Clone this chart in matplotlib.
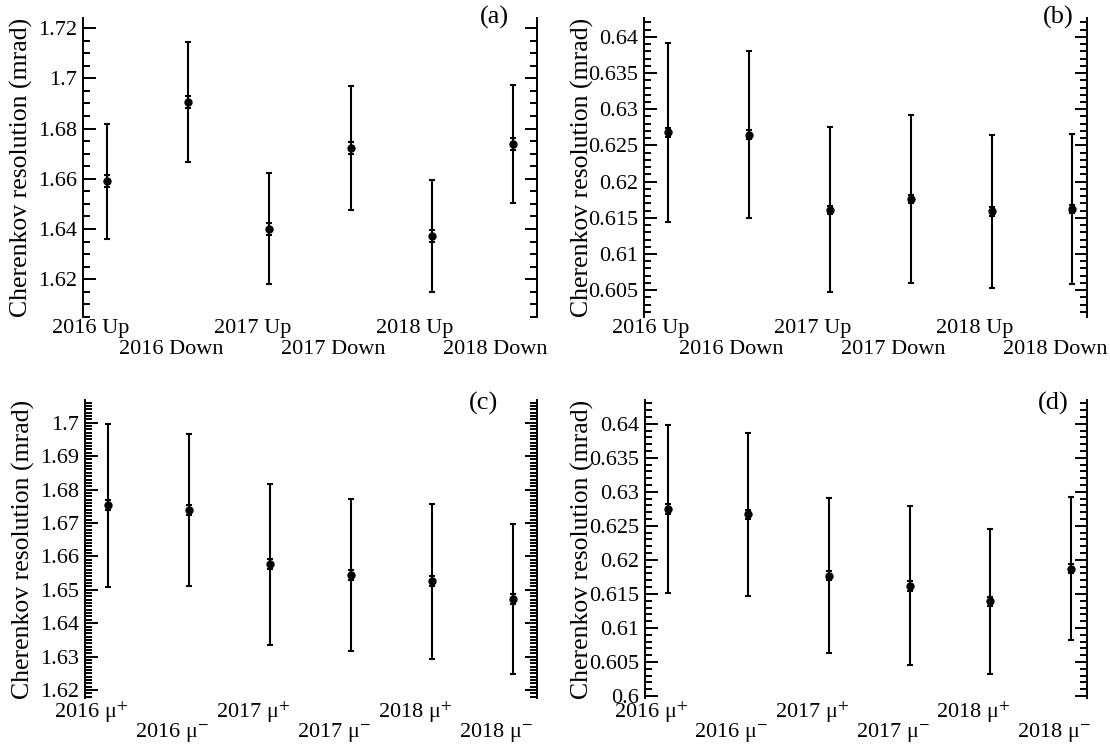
import matplotlib
matplotlib.use("Agg")
import matplotlib.pyplot as plt
from matplotlib.ticker import MultipleLocator, FormatStrFormatter, NullLocator
from matplotlib.transforms import ScaledTranslation

plt.rcParams['font.family'] = ['Liberation Serif', 'DejaVu Serif']
plt.rcParams['mathtext.fontset'] = 'stix'

# ---- data ----
labels_pol = ["2016 Up", "2016 Down", "2017 Up", "2017 Down", "2018 Up", "2018 Down"]
labels_chg = ["2016 μ$^{+}$", "2016 μ$^{-}$", "2017 μ$^{+}$", "2017 μ$^{-}$",
              "2018 μ$^{+}$", "2018 μ$^{-}$"]

res_a = [1.6590, 1.6905, 1.6402, 1.6722, 1.6372, 1.6739]
err_a = [0.0230, 0.0240, 0.0222, 0.0247, 0.0224, 0.0235]
stat_a = [0.0024] * 6

res_b = [0.6268, 0.6265, 0.6161, 0.6176, 0.6159, 0.6162]
err_b = [0.0124, 0.0115, 0.0114, 0.0116, 0.0106, 0.0104]
stat_b = [0.0006] * 6

res_c = [1.6753, 1.6738, 1.6576, 1.6545, 1.6526, 1.6472]
err_c = [0.0244, 0.0228, 0.0242, 0.0228, 0.0232, 0.0224]
stat_c = [0.0015] * 6

res_d = [0.6275, 0.6267, 0.6177, 0.6162, 0.6139, 0.6187]
err_d = [0.0123, 0.0120, 0.0114, 0.0117, 0.0107, 0.0105]
stat_d = [0.0007] * 6

panels = [
    # values, errors, stat, labels, ylim, major, minor, tag
    (res_a, err_a, stat_a, labels_pol, (1.605, 1.724), 0.02, 0.005, "(a)"),
    (res_b, err_b, stat_b, labels_pol, (0.6013, 0.6426), 0.005, 0.001, "(b)"),
    (res_c, err_c, stat_c, labels_chg, (1.6176, 1.7068), 0.01, 0.001, "(c)"),
    (res_d, err_d, stat_d, labels_chg, (0.5997, 0.6435), 0.005, 0.001, "(d)"),
]

W, H = 1110, 746
# axes boxes in pixels: left, top, right, bottom
boxes = [(83, 18, 537, 317), (643.5, 18, 1087, 317),
         (85, 400, 537, 698), (644.5, 400, 1087, 698)]
xlims = [(-0.3, 5.3), (-0.3, 5.18), (-0.28, 5.3), (-0.29, 5.2)]
tag_pos = [(494, 17), (1058, 17), (483, 403), (1053, 403)]

fig = plt.figure(figsize=(W / 100, H / 100), dpi=100)

for (vals, errs, stat, labs, ylim, major, minor, tag), box, xl, tp in zip(panels, boxes, xlims, tag_pos):
    l, t, r, b = box
    ax = fig.add_axes([l / W, 1 - b / H, (r - l) / W, (b - t) / H])
    x = list(range(len(vals)))

    ax.errorbar(x, vals, yerr=errs, fmt='o', color='black', ms=5,
                elinewidth=1.5, capsize=2.5, capthick=1.5)
    ax.errorbar(x, vals, yerr=stat, fmt='none', ecolor='black',
                elinewidth=1.5, capsize=2.5, capthick=1.5)

    ax.set_xlim(*xl)
    ax.set_ylim(*ylim)

    for s in ['top', 'bottom']:
        ax.spines[s].set_visible(False)
    for s in ['left', 'right']:
        ax.spines[s].set_linewidth(1.4)

    ax.yaxis.set_major_locator(MultipleLocator(major))
    ax.yaxis.set_minor_locator(MultipleLocator(minor))
    ax.yaxis.set_major_formatter(FormatStrFormatter('%g'))
    ax.tick_params(axis='y', which='both', direction='in', left=True, right=True,
                   labelright=False, width=1.4, labelsize=16, pad=4)
    ax.tick_params(axis='y', which='major', length=9)
    ax.tick_params(axis='y', which='minor', length=5)

    # staggered category labels, shifted a bit left of their points
    ax.xaxis.set_major_locator(NullLocator())
    for i, lab in enumerate(labs):
        dy = 0.02 if i % 2 == 0 else 0.23
        trans = ax.get_xaxis_transform() + ScaledTranslation(-0.17, -dy, fig.dpi_scale_trans)
        ax.text(x[i], 0, lab, transform=trans, ha='center', va='top', fontsize=16)

    ax.set_ylabel("Cherenkov resolution (mrad)", fontsize=18.5)
    ax.yaxis.set_label_coords(-50 / (r - l), 0.5)

    fig.text(tp[0] / W, 1 - tp[1] / H, tag, fontsize=19, ha='center', va='center')

fig.savefig("out.png", dpi=100)
